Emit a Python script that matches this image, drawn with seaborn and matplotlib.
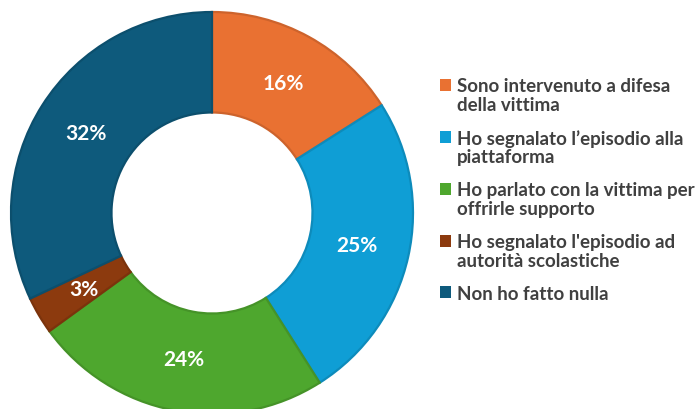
import matplotlib
matplotlib.use("Agg")
import matplotlib.pyplot as plt
import matplotlib.colors as mcolors
from matplotlib.patches import Rectangle
from matplotlib.legend_handler import HandlerBase
import seaborn as sns

sns.set_theme(style="white")
plt.rcParams["font.family"] = ["Lato", "DejaVu Sans"]

categories = [
    "Sono intervenuto a difesa\ndella vittima",
    "Ho segnalato l’episodio alla\npiattaforma",
    "Ho parlato con la vittima per\noffrirle supporto",
    "Ho segnalato l'episodio ad\nautorità scolastiche",
    "Non ho fatto nulla",
]
percentages = [16, 25, 24, 3, 32]
colors = ["#E97132", "#0F9ED5", "#4EA72E", "#8C3A0E", "#0E5A7C"]

LEGEND_FS = 13.5
LINE_SPACING = 1.13


def darker(c, f=0.88):
    r, g, b = mcolors.to_rgb(c)
    return (r * f, g * f, b * f)


class FirstLineSquare(HandlerBase):
    """Square legend key lifted to sit beside the first line of a label."""

    def __init__(self, lift):
        super().__init__()
        self.lift = lift

    def create_artists(self, legend, orig_handle, xdescent, ydescent,
                       width, height, fontsize, trans):
        sq = Rectangle((-xdescent, -ydescent + self.lift), width, height,
                       facecolor=orig_handle.get_facecolor(), linewidth=0,
                       transform=trans)
        return [sq]


W, H = 700, 410
fig = plt.figure(figsize=(W / 100, H / 100), dpi=100)

cx, cy, R = 212, 214, 201
ax = fig.add_axes([(cx - R) / W, (H - cy - R) / H, 2 * R / W, 2 * R / H])

wedges, texts, autotexts = ax.pie(
    percentages,
    colors=colors,
    startangle=90,
    counterclock=False,
    radius=1.0,
    autopct=lambda p: f"{p:.0f}%",
    pctdistance=0.74,
    wedgeprops=dict(width=0.5, linewidth=1.6),
    textprops=dict(color="white", fontsize=15, fontweight="bold"),
)
for w, c in zip(wedges, colors):
    w.set_edgecolor(darker(c))
    w.set_clip_on(False)

ax.set_xlim(-1, 1)
ax.set_ylim(-1, 1)
ax.set_aspect("equal")
ax.axis("off")

# half of one baseline-to-baseline step, in points
half_line = 0.5 * 20.5 * 72 / 100
handler_map = {
    w: FirstLineSquare(half_line if "\n" in lab else 0.0)
    for w, lab in zip(wedges, categories)
}

leg = fig.legend(
    wedges,
    categories,
    handler_map=handler_map,
    loc="upper left",
    bbox_to_anchor=(440 / W, 1 - 78 / H),
    frameon=False,
    fontsize=LEGEND_FS,
    handlelength=0.59,
    handleheight=0.59,
    handletextpad=0.3,
    labelspacing=0.85,
    borderpad=0,
    borderaxespad=0,
)
for t in leg.get_texts():
    t.set_color("#404040")
    t.set_fontweight("bold")
    t.set_linespacing(LINE_SPACING)

fig.savefig("out.png", dpi=100)
